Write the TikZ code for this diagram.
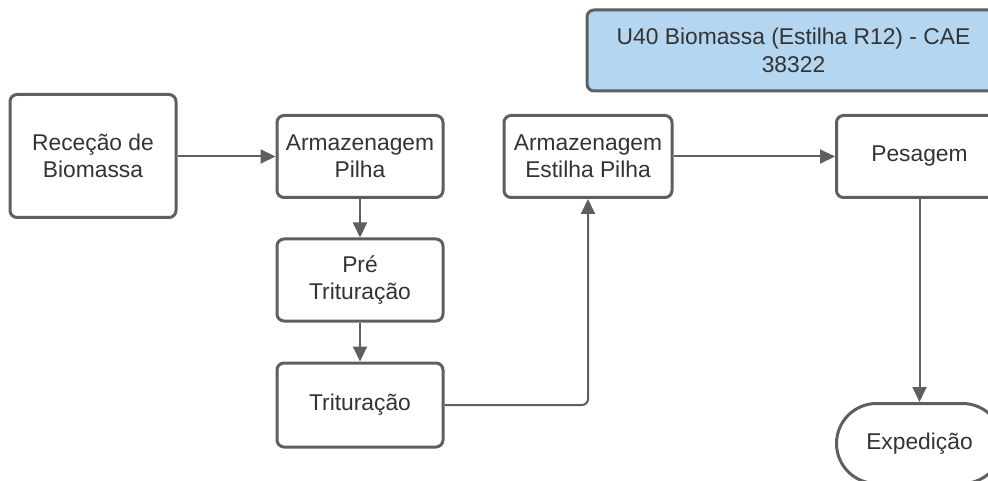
\documentclass[tikz,border=0pt]{standalone}
\usepackage{fontspec}
\setmainfont{Liberation Sans}
\usetikzlibrary{arrows.meta}
\definecolor{edge}{HTML}{5F5F5F}
\definecolor{ink}{HTML}{333333}
\definecolor{hdrfill}{HTML}{B5D6F0}
\begin{document}
\begin{tikzpicture}[x=1pt,y=-1pt,
  stepbox/.style={draw=edge, line width=3pt, rounded corners=7pt, fill=white,
    minimum width=166pt, minimum height=82pt, align=center, text=ink,
    font=\fontsize{22.8}{27.5}\selectfont, inner sep=0pt},
  flow/.style={draw=edge, line width=2pt, -{Triangle[length=15pt,width=14pt]}}]
  \useasboundingbox (0,0) rectangle (988,481);
  \clip (0,0) rectangle (988,481);
  \fill[white] (0,0) rectangle (988,481);

  % process steps
  \node[stepbox, minimum height=123pt] (rec) at (93,156) {Receção de\\Biomassa};
  \node[stepbox] (armP) at (360,156.5) {Armazenagem\\Pilha};
  \node[stepbox] (pre)  at (360,280) {Pré\\Trituração};
  \node[stepbox, minimum height=84pt] (trit) at (360,405) {Trituração};
  \node[stepbox, minimum width=168pt] (est) at (588,156.5) {Armazenagem\\Estilha Pilha};
  \node[stepbox] (pes)  at (919.5,156.5) {Pesagem};
  \node[stepbox, rounded corners=40pt, minimum height=80pt] (exp) at (919.5,443.5) {Expedição};

  % unit header
  \node[stepbox, fill=hdrfill, minimum width=413pt, minimum height=81pt] (hdr) at (793.5,50.5)
    {U40 Biomassa (Estilha R12) - CAE\\38322};

  % flow connectors
  \draw[flow] (rec.east |- armP.west) -- (armP.west);
  \draw[flow] (armP.south) -- (pre.north);
  \draw[flow] (pre.south) -- (trit.north);
  \draw[flow, rounded corners=6pt] (trit.east) -| (est.south);
  \draw[flow] (est.east) -- (pes.west);
  \draw[flow] (pes.south) -- (exp.north);
\end{tikzpicture}
\end{document}
